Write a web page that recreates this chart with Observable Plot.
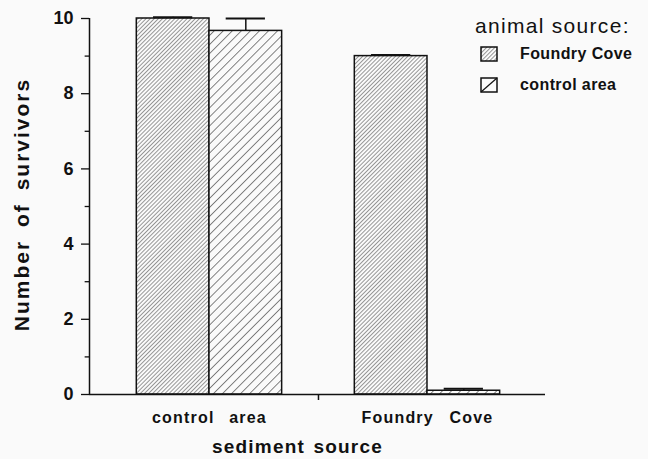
<!DOCTYPE html>
<html><head><meta charset="utf-8">
<script src="https://cdn.jsdelivr.net/npm/d3@7"></script>
<script src="https://cdn.jsdelivr.net/npm/@observablehq/plot@0.6"></script>
<style>
body{margin:0;background:#fafafa;}
#wrap{position:relative;width:648px;height:459px;font-family:"Liberation Sans",Arial,sans-serif;}
#legend{position:absolute;left:470px;top:0px;}
</style></head><body><div id="wrap"></div>
<script>
// categories
const sediments = ["control area", "Foundry Cove"];
const animals = ["Foundry Cove", "control area"];
// bars (sediment source x animal source)
const sedimentSource = ["control area", "control area", "Foundry Cove", "Foundry Cove"];
const animalSource = ["Foundry Cove", "control area", "Foundry Cove", "control area"];
const survivors = [10, 9.67, 9.0, 0.1];
const stdError = [0.03, 0.33, 0.03, 0.05];
// y ticks
const yMajorTicks = [0, 2, 4, 6, 8, 10];
const yMinorTicks = [1, 3, 5, 7, 9];

const groupCenter = s => sediments.indexOf(s) * 3 + 2;
const data = sedimentSource.map((s, i) => {
  const c = groupCenter(s);
  const a = animals.indexOf(animalSource[i]);
  return {sediment: s, animal: animalSource[i], mean: survivors[i], se: stdError[i],
          x1: c + a - 1, x2: c + a, xc: c + a - 0.5};
});
const xDom = [0.349, 6.624];
const ink = "#111";

const chart = Plot.plot({
  width: 648, height: 459,
  marginLeft: 89, marginRight: 103, marginTop: 18, marginBottom: 65,
  x: {domain: xDom, axis: null},
  y: {domain: [0, 10], ticks: yMajorTicks, tickSize: 0, tickPadding: 16, label: null},
  color: {type: "ordinal", domain: animals, range: ["url(#hatchDense)", "url(#hatchSparse)"]},
  style: {fontFamily: "'Liberation Sans', Arial, sans-serif", fontSize: "18px", fontWeight: "bold", background: "#fafafa", color: ink},
  marks: [
    Plot.rectY(data, {x1: "x1", x2: "x2", y1: 0, y2: "mean", fill: "animal", stroke: ink, strokeWidth: 1.5}),
    Plot.ruleX(data, {x: "xc", y1: "mean", y2: d => d.mean + d.se, strokeWidth: 1.5, stroke: ink}),
    Plot.ruleY(data, {y: d => d.mean + d.se, x1: d => d.xc - 0.27, x2: d => d.xc + 0.27, strokeWidth: 2, stroke: ink}),
    Plot.ruleY([0], {x1: xDom[0], x2: xDom[1], strokeWidth: 1.5, stroke: ink}),
    Plot.ruleX([xDom[0]], {y1: 0, y2: 10, strokeWidth: 1.5, stroke: ink}),
    Plot.ruleY(yMajorTicks, {y: d => d, x1: xDom[0] - 0.11, x2: xDom[0], strokeWidth: 1.3, stroke: ink}),
    Plot.ruleY(yMinorTicks, {y: d => d, x1: xDom[0] - 0.06, x2: xDom[0], strokeWidth: 1.3, stroke: ink}),
    Plot.ruleX([3.5], {y1: 0, y2: -0.16, strokeWidth: 1.5, stroke: ink}),
    Plot.text(sediments, {x: s => groupCenter(s), y: 0, dy: 23, text: d => d, fontSize: 16, fontWeight: "bold", fill: ink, lineAnchor: "middle"}),
    Plot.text(["Number of survivors"], {frameAnchor: "left", textAnchor: "middle", lineAnchor: "middle", rotate: -90, dx: -67, dy: -2, text: d => d, fontSize: 21, fontWeight: "bold", fill: ink}),
    Plot.text(["sediment source"], {frameAnchor: "bottom", textAnchor: "middle", lineAnchor: "middle", dx: -20, dy: 52, text: d => d, fontSize: 19, fontWeight: "bold", fill: ink})
  ]
});

const svg = d3.select(chart);
// letter / word spacing of the text labels
const spacing = {
  "control area": ["1.2px", "9px"],
  "Foundry Cove": ["1.2px", "10px"],
  "Number of survivors": ["2px", "5px"],
  "sediment source": ["1.2px", "2px"]
};
svg.selectAll("text").each(function () {
  const s = spacing[this.textContent];
  if (s) d3.select(this).style("letter-spacing", s[0]).style("word-spacing", s[1]);
});

const defs = svg.insert("defs", ":first-child");
function addPattern(defs, id, size, sw, col) {
  const p = defs.append("pattern").attr("id", id).attr("patternUnits", "userSpaceOnUse")
    .attr("width", size).attr("height", size).attr("patternTransform", "rotate(45)");
  p.append("rect").attr("width", size).attr("height", size).attr("fill", "#fafafa");
  p.append("line").attr("x1", 0).attr("y1", 0).attr("x2", 0).attr("y2", size)
    .attr("stroke", col).attr("stroke-width", sw);
}
addPattern(defs, "hatchDense", 2.9, 1, "#333");
addPattern(defs, "hatchSparse", 6.4, 1.1, "#222");

const wrap = document.getElementById("wrap");
wrap.appendChild(chart);

// legend
const leg = d3.select(wrap).append("svg").attr("id", "legend").attr("width", 178).attr("height", 100)
  .style("font-family", "'Liberation Sans', Arial, sans-serif");
const ldefs = leg.append("defs");
addPattern(ldefs, "legDense", 2.9, 1, "#333");
leg.append("text").attr("x", 5).attr("y", 33).attr("font-size", 21).attr("fill", ink)
  .style("letter-spacing", "1.3px").text("animal source:");
const rows = leg.selectAll("g.row").data(animals).join("g").attr("transform", (d, i) => `translate(0,${47 + i * 31})`);
rows.append("rect").attr("x", 11).attr("y", 0).attr("width", 16).attr("height", 14)
  .attr("fill", (d, i) => i === 0 ? "url(#legDense)" : "#fafafa").attr("stroke", ink).attr("stroke-width", 1.5);
rows.filter((d, i) => i === 1).append("line").attr("x1", 11).attr("y1", 14).attr("x2", 27).attr("y2", 0)
  .attr("stroke", ink).attr("stroke-width", 1.2);
rows.append("text").attr("x", 50).attr("y", 12).attr("font-size", 16).attr("font-weight", "bold").attr("fill", ink)
  .style("letter-spacing", "0.4px").text(d => d);
</script>
</body></html>
